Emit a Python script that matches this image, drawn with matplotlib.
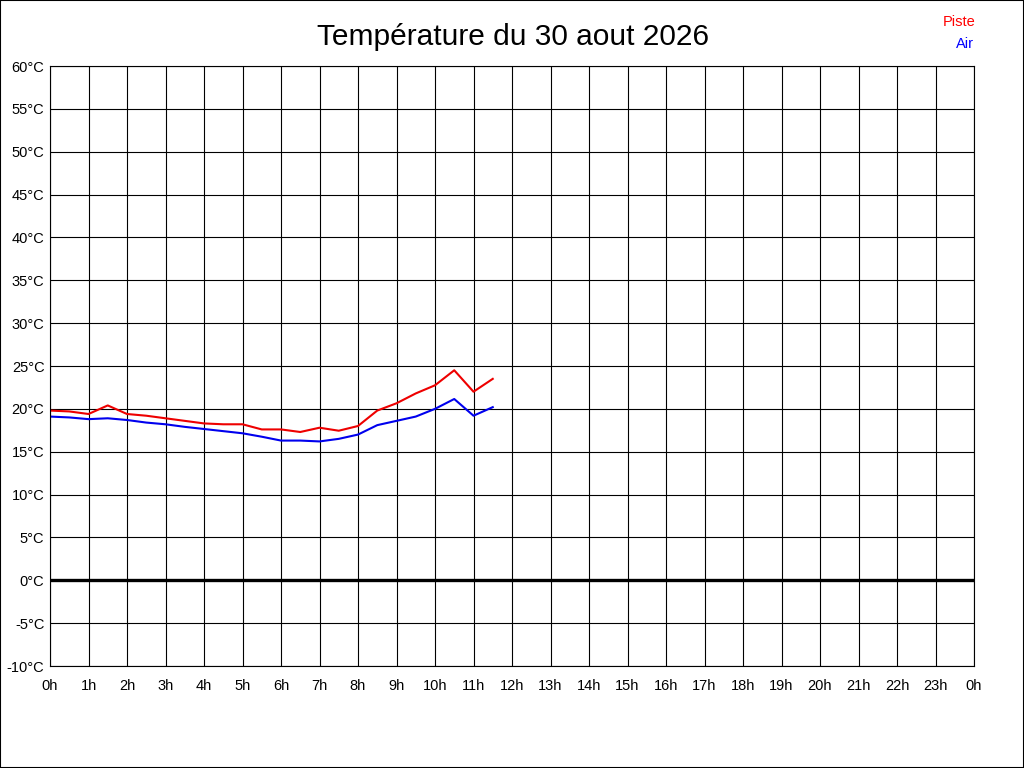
import matplotlib
matplotlib.use('Agg')
import matplotlib.pyplot as plt
from matplotlib.patches import Rectangle

plt.rcParams['font.family'] = ['Liberation Sans', 'DejaVu Sans']

#-------------------------------------------------------------------------------
# DATA

#hours of the readings (every half hour)
hours = [0, 0.5, 1, 1.5, 2, 2.5, 3, 3.5, 4, 4.5, 5, 5.5, 6, 6.5, 7, 7.5,
         8, 8.5, 9, 9.5, 10, 10.5, 11, 11.5]

#track temperature (degC)
piste = [19.8, 19.7, 19.4, 20.4, 19.4, 19.2, 18.9, 18.6, 18.3, 18.2, 18.2, 17.6,
         17.6, 17.3, 17.8, 17.45, 18.0, 19.8, 20.65, 21.8, 22.75, 24.5, 22.0, 23.5]

#air temperature (degC)
air = [19.1, 19.0, 18.8, 18.9, 18.7, 18.4, 18.2, 17.9, 17.65, 17.4, 17.15, 16.75,
       16.3, 16.3, 16.2, 16.5, 17.0, 18.1, 18.6, 19.1, 20.0, 21.15, 19.2, 20.2]

yticks = list(range(-10, 61, 5))
xticks = list(range(0, 25))
xlabels = ['%dh' % (h % 24) for h in xticks]

#-------------------------------------------------------------------------------
# PLOT

W, H = 1024, 768
fig = plt.figure(figsize=(W/100, H/100), dpi=100)
ax = fig.add_axes([50/W, 1 - 666/H, 924/W, 600/H])

ax.set_xlim(0, 24)
ax.set_ylim(-10, 60)
ax.set_xticks(xticks)
ax.set_xticklabels(xlabels)
ax.set_yticks(yticks)
ax.set_yticklabels(['%d°C' % v for v in yticks])
ax.tick_params(length=0, labelsize=10.5)
ax.tick_params(axis='x', pad=9)
ax.tick_params(axis='y', pad=4)
ax.grid(True, color='black', linewidth=0.8)
ax.set_axisbelow(True)
for s in ax.spines.values():
    s.set_color('black')
    s.set_linewidth(0.8)

ax.axhline(0, color='black', linewidth=2.4)
ax.plot(hours, piste, color='#ee0000', linewidth=1.5)
ax.plot(hours, air, color='#0000ee', linewidth=1.5)

fig.text(513/W, 1 - 37/H, 'Température du 30 aout 2026', ha='center', va='center',
         fontsize=21.5)
fig.text(976/W, 1 - 22/H, 'Piste', color='red', ha='right', va='center', fontsize=10.5)
fig.text(974/W, 1 - 44/H, 'Air', color='blue', ha='right', va='center', fontsize=10.5)

#figure border
fig.patches.append(Rectangle((0, 0), 1, 1, transform=fig.transFigure,
                             fill=False, edgecolor='black', linewidth=1.5))

fig.savefig('out.png', dpi=100)
